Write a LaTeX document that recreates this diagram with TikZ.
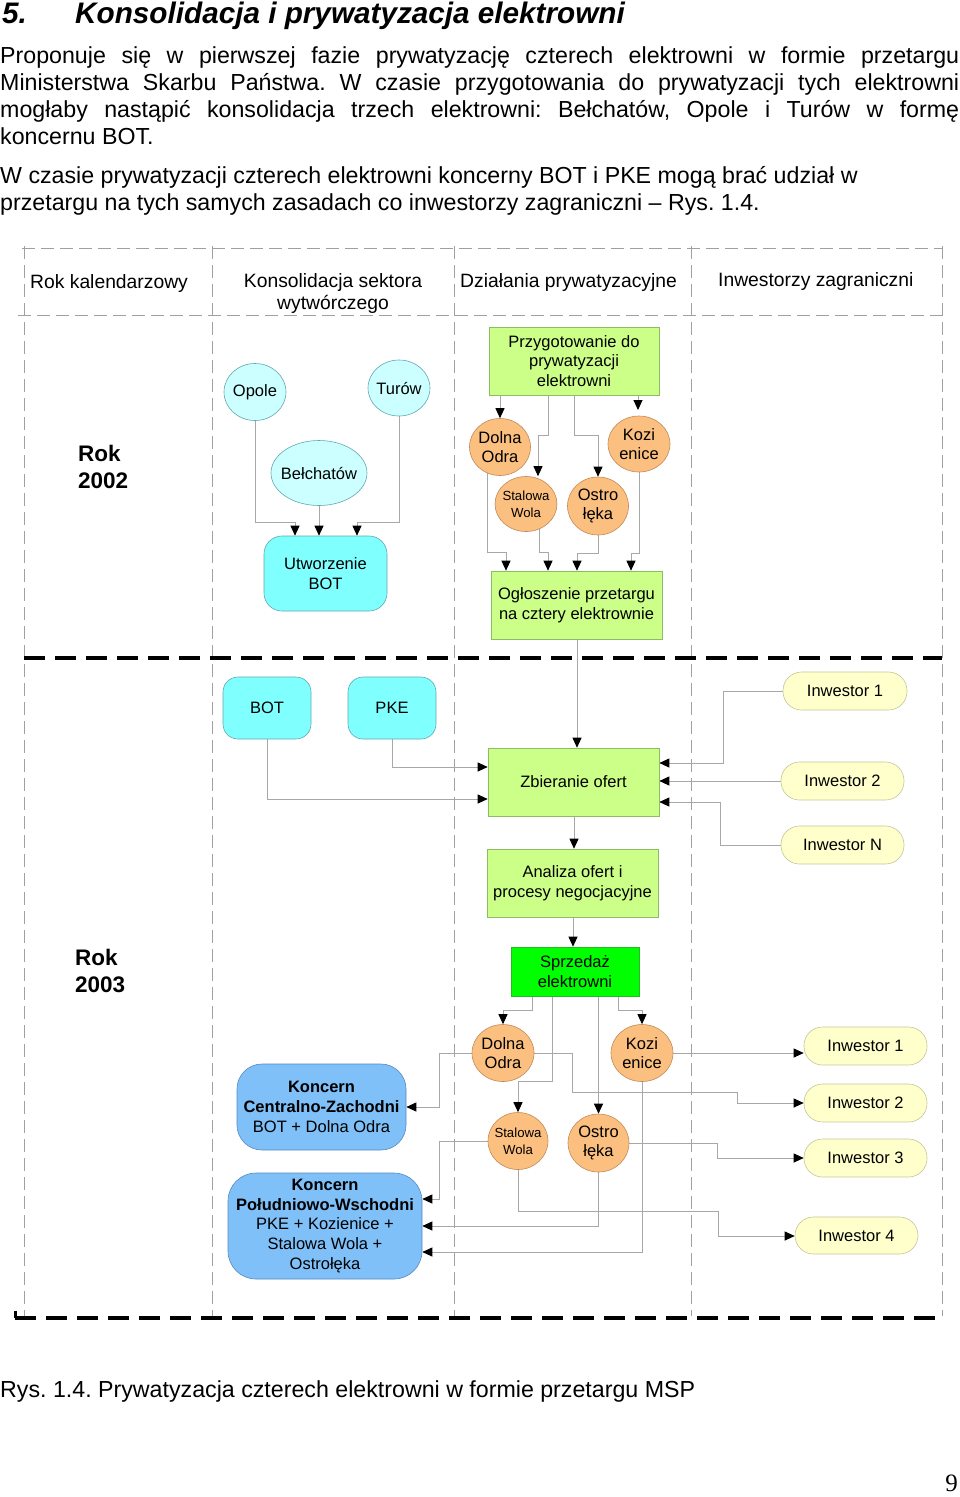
\documentclass[tikz,border=0pt]{standalone}
\usepackage{fontspec}
\setmainfont{Liberation Sans}
\newfontfamily\serifnum{Liberation Serif}
\usetikzlibrary{shapes.geometric,arrows.meta,calc}
\pgfdeclarelayer{background}
\pgfsetlayers{background,main}
\frenchspacing
\definecolor{cLightCyan}{HTML}{CCFFFF}
\definecolor{cCyan}{HTML}{80FFFF}
\definecolor{cCyanBd}{HTML}{5FA8B0}
\definecolor{cLime}{HTML}{CCFF88}
\definecolor{cLimeBd}{HTML}{8DBB66}
\definecolor{cGreen}{HTML}{00FF00}
\definecolor{cGreenBd}{HTML}{22BB22}
\definecolor{cOrange}{HTML}{FBBF80}
\definecolor{cOrangeBd}{HTML}{C08A58}
\definecolor{cCream}{HTML}{FFFFCC}
\definecolor{cCreamBd}{HTML}{C4C49A}
\definecolor{cBlue}{HTML}{80C0F8}
\definecolor{cBlueBd}{HTML}{5588C0}
\definecolor{cGrid}{HTML}{A0A0A0}
\definecolor{cWire}{HTML}{A8A8A8}
\begin{document}
\frenchspacing
\begin{tikzpicture}[x=1pt,y=-1pt,
  lbl/.style={font=\fontsize{16.5}{19.7}\selectfont, align=center, inner sep=0pt},
  small/.style={font=\fontsize{13.2}{17}\selectfont, align=center, inner sep=0pt},
  hdr/.style={font=\fontsize{19.3}{22}\selectfont, inner sep=0pt},
  body/.style={font=\fontsize{23.2}{27.5}\selectfont, inner sep=0pt, anchor=base west},
  year/.style={font=\bfseries\fontsize{22.5}{27}\selectfont, align=left, inner sep=0pt, anchor=west},
  plantA/.style={ellipse, draw=cCyanBd, fill=cLightCyan, line width=0.6pt, inner sep=0pt},
  plantB/.style={ellipse, draw=cOrangeBd, fill=cOrange, line width=0.6pt, inner sep=0pt},
  cyanbox/.style={lbl, rectangle, rounded corners=15pt, draw=cCyanBd, fill=cCyan, line width=0.6pt},
  limebox/.style={lbl, rectangle, draw=cLimeBd, fill=cLime, line width=0.6pt},
  salebox/.style={lbl, rectangle, draw=cGreenBd, fill=cGreen, line width=0.6pt},
  investor/.style={lbl, rectangle, rounded corners=18.5pt, draw=cCreamBd, fill=cCream, line width=0.6pt, minimum width=123pt, minimum height=38pt},
  koncern/.style={lbl, rectangle, rounded corners=25pt, draw=cBlueBd, fill=cBlue, line width=0.6pt},
  wire/.style={draw=cWire, line width=0.9pt},
  arr/.style={wire, -{Triangle[color=black,width=9pt,length=10pt]}},
  tabline/.style={draw=cGrid, line width=0.9pt, dash pattern=on 13pt off 6pt},
  sepline/.style={draw=black, line width=4pt, dash pattern=on 21pt off 10pt}
]
\useasboundingbox (0,0) rectangle (960,1497);

% ---------- text above ----------
\node[body, font=\bfseries\itshape\fontsize{29.7}{34}\selectfont] (ttlnum) at (2,23) {5.};
\node[body, font=\bfseries\itshape\fontsize{29.7}{34}\selectfont] (ttl) at (75,23) {Konsolidacja i prywatyzacja elektrowni};
\node[body] (p1) at (0,63) {\makebox[959pt][s]{Proponuje się w pierwszej fazie prywatyzację czterech elektrowni w formie przetargu}};
\node[body] (p2) at (0,90) {\makebox[959pt][s]{Ministerstwa Skarbu Państwa. W czasie przygotowania do prywatyzacji tych elektrowni}};
\node[body] (p3) at (0,117) {\makebox[959pt][s]{mogłaby nastąpić konsolidacja trzech elektrowni: Bełchatów, Opole i Turów w formę}};
\node[body] (p4) at (0,144) {koncernu BOT.};
\node[body] (q1) at (0,183) {W czasie prywatyzacji czterech elektrowni koncerny BOT i PKE mogą brać udział w};
\node[body] (q2) at (0,210) {przetargu na tych samych zasadach co inwestorzy zagraniczni -- Rys. 1.4.};

% ---------- table frame ----------
\begin{pgfonlayer}{background}
\draw[tabline] (22,248) -- (942,248);
\draw[tabline] (18,315) -- (942,315);
\foreach \xx in {24,212,454,691,942} \draw[tabline] (\xx,246) -- (\xx,1316);
\end{pgfonlayer}
\draw[sepline] (24,658) -- (942,658);
\draw[sepline] (15,1318) -- (942,1318);
\draw[line width=3pt] (15.5,1311) -- (15.5,1318);

% ---------- headers ----------
\node[hdr, anchor=west] (h1) at (30,284) {Rok kalendarzowy};
\node[hdr, align=center] (h2) at (333,294) {Konsolidacja sektora\\wytwórczego};
\node[hdr, anchor=west] (h3) at (460,283) {Działania prywatyzacyjne};
\node[hdr, anchor=west] (h4) at (718,282) {Inwestorzy zagraniczni};

\node[year] (y2002) at (78,467) {Rok\\2002};
\node[year] (y2003) at (75,971) {Rok\\2003};

% ---------- 2002 ----------
\node[plantA, minimum width=62pt, minimum height=57pt, label={[lbl]center:Opole}] (opole) at (255,392) {};
\node[plantA, minimum width=62pt, minimum height=56pt, label={[lbl]center:Turów}] (turow) at (399,388) {};
\node[plantA, minimum width=96pt, minimum height=65pt, label={[lbl]center:Bełchatów}] (belch) at (319,473) {};
\node[cyanbox, rounded corners=18pt, minimum width=123pt, minimum height=75pt] (utw) at (325.5,573.5) {Utworzenie\\BOT};

\node[limebox, minimum width=170pt, minimum height=68pt] (przyg) at (574,361) {Przygotowanie do\\prywatyzacji\\elektrowni};
\node[plantB, minimum width=61pt, minimum height=57pt, label={[lbl]center:{Dolna\\Odra}}] (do1) at (500,447) {};
\node[plantB, minimum width=62pt, minimum height=56pt, label={[lbl]center:{Kozi\\enice}}] (ko1) at (639,444) {};
\node[plantB, minimum width=62pt, minimum height=55pt, label={[small]center:{Stalowa\\Wola}}] (sw1) at (526,504) {};
\node[plantB, minimum width=61pt, minimum height=58pt, label={[lbl]center:{Ostro\\łęka}}] (os1) at (598,506) {};
\node[limebox, minimum width=171pt, minimum height=68pt] (ogl) at (576.5,605) {Ogłoszenie przetargu\\na cztery elektrownie};

% ---------- 2003 upper ----------
\node[cyanbox, minimum width=88pt, minimum height=62pt] (bot) at (267,708) {BOT};
\node[cyanbox, minimum width=88pt, minimum height=62pt] (pke) at (392,708) {PKE};
\node[limebox, minimum width=171pt, minimum height=68pt] (zbier) at (573.5,782) {Zbieranie ofert};
\node[limebox, minimum width=171pt, minimum height=68pt] (anal) at (572.5,883) {Analiza ofert i\\procesy negocjacyjne};
\node[salebox, minimum width=128pt, minimum height=49pt] (sprz) at (575,971.5) {Sprzedaż\\elektrowni};
\node[investor, minimum width=124pt] (inw1) at (845,691) {Inwestor 1};
\node[investor] (inw2) at (842.5,781) {Inwestor 2};
\node[investor] (inwN) at (842.5,845) {Inwestor N};

% ---------- 2003 lower ----------
\node[plantB, minimum width=62pt, minimum height=57pt, label={[lbl]center:{Dolna\\Odra}}] (do2) at (503,1053) {};
\node[plantB, minimum width=62pt, minimum height=57pt, label={[lbl]center:{Kozi\\enice}}] (ko2) at (642,1053) {};
\node[plantB, minimum width=60pt, minimum height=57pt, label={[small]center:{Stalowa\\Wola}}] (sw2) at (518,1141) {};
\node[plantB, minimum width=61pt, minimum height=58pt, label={[lbl]center:{Ostro\\łęka}}] (os2) at (598.5,1143) {};
\node[koncern, minimum width=169pt, minimum height=86pt] (kcz) at (321.5,1107) {\textbf{Koncern}\\\textbf{Centralno-Zachodni}\\BOT + Dolna Odra};
\node[koncern, rounded corners=28pt, minimum width=194pt, minimum height=106pt] (kpw) at (325,1226) {\textbf{Koncern}\\\textbf{Południowo-Wschodni}\\PKE + Kozienice +\\Stalowa Wola +\\Ostrołęka};
\node[investor] (i1) at (865.5,1046) {Inwestor 1};
\node[investor] (i2) at (865.5,1103) {Inwestor 2};
\node[investor] (i3) at (865.5,1158) {Inwestor 3};
\node[investor, minimum height=37pt] (i4) at (856.5,1235.5) {Inwestor 4};

% ---------- caption ----------
\node[body] (cap) at (0,1397) {Rys. 1.4. Prywatyzacja czterech elektrowni w formie przetargu MSP};
\node[inner sep=0pt, anchor=base east, font=\serifnum\fontsize{25}{30}\selectfont] (pg) at (958,1491) {9};

% ---------- connectors ----------
\begin{pgfonlayer}{background}
% 2002 left
\draw[arr] (opole.center) |- (295,522) -- (utw.north -| 295,0);
\draw[arr] (belch.center) -- (utw.north -| belch.center);
\draw[arr] (turow.center) |- (357,522) -- (utw.north -| 357,0);
% 2002 right
\draw[arr] (przyg.south -| do1.north) -- (do1.north);
\draw[arr] (przyg.center -| 548,0) |- (538,435) -- (sw1.north -| 538,0);
\draw[arr] (przyg.center -| 574,0) |- (os1.north |- 0,435) -- (os1.north);
\draw[arr] (przyg.south -| 638,0) -- (638,410);
\draw[arr] (do1.center -| 487,0) |- (506,552) -- (ogl.north -| 506,0);
\draw[arr] (sw1.center -| 539,0) |- (548,552) -- (ogl.north -| 548,0);
\draw[arr] (os1.center) |- (577,553) -- (ogl.north -| 577,0);
\draw[arr] (ko1.center) |- (631,553) -- (ogl.north -| 631,0);
% 2003 upper
\draw[arr] (ogl.center -| 577,0) -- (zbier.north -| 577,0);
\draw[arr] (pke.center) |- (zbier.west |- 0,767);
\draw[arr] (bot.center) |- (zbier.west |- 0,799);
\draw[arr] (inw1.center) -| (723,763) -- (zbier.east |- 0,763);
\draw[arr] (inw2.center) -- (zbier.east |- inw2.center);
\draw[arr] (inwN.center) -| (720,802) -- (zbier.east |- 0,802);
\draw[arr] (zbier.center -| 574,0) -- (anal.north -| 574,0);
\draw[arr] (anal.center -| 573,0) -- (sprz.north -| 573,0);
% 2003 lower
\draw[arr] (sprz.center -| 532,0) |- (503,1010) -- (do2.north);
\draw[arr] (sprz.center -| 552,0) |- (518,1081) -- (sw2.north);
\draw[arr] (sprz.center -| os2.north) -- (os2.north);
\draw[arr] (sprz.center -| 618,0) |- (642,1010) -- (ko2.north);
\draw[arr] (do2.center) -| (439,1107) -- (kcz.east |- 0,1107);
\draw[arr] (sw2.center) -| (439,1199) -- (kpw.east |- 0,1199);
\draw[arr] (os2.center) |- (kpw.east |- 0,1226);
\draw[arr] (ko2.center) |- (kpw.east |- 0,1252);
\draw[arr] (do2.center) -| (572,1092) -| (737,1103) -- (i2.west |- 0,1103);
\draw[arr] (ko2.center) -- (i1.west |- ko2.center);
\draw[arr] (os2.center) -| (717,1158) -- (i3.west |- 0,1158);
\draw[arr] (sw2.center) |- (718,1211) |- (i4.west |- 0,1236);
\end{pgfonlayer}
\end{tikzpicture}
\end{document}
